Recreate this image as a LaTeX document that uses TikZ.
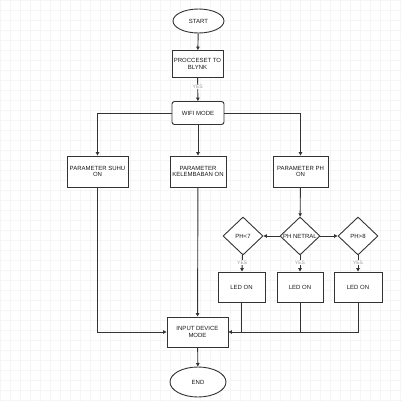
\documentclass[tikz,border=0pt]{standalone}
\usepackage{fontspec}
\setmainfont{Liberation Sans}
\usetikzlibrary{arrows.meta,shapes.geometric}
\definecolor{ln}{HTML}{333333}
\definecolor{gridc}{HTML}{F5F5F5}
\tikzset{
  txt/.style={font=\fontsize{6}{6.8}\selectfont,text=black!90},
  box/.style={txt,draw=ln,line width=0.9pt,fill=white,inner sep=0.5pt,align=center},
  oval/.style={box,ellipse},
  dia/.style={draw=ln,line width=0.9pt,fill=white,diamond,minimum width=40pt,minimum height=38pt,inner sep=0pt},
  conn/.style={draw=ln,line width=0.9pt},
  arr/.style={conn,-{Triangle[length=3.4pt,width=3.4pt]}},
  yes/.style={fill=white,inner sep=0.5pt,font=\fontsize{5}{5.5}\selectfont,text=black!40}
}
\begin{document}
\begin{tikzpicture}[x=1pt,y=-1pt]
\useasboundingbox (0,0) rectangle (402,402);
\fill[white] (0,0) rectangle (402,402);
\foreach \g in {0,10,...,400} {
  \draw[gridc,line width=0.4pt] (\g,0) -- (\g,402);
  \draw[gridc,line width=0.4pt] (0,\g) -- (402,\g);
}
\node[oval,minimum width=51pt,minimum height=24pt] (start) at (198.5,21) {START};
\node[box,minimum width=51pt,minimum height=27pt] (proc) at (197.5,64) {PROCCESET TO\\BLYNK};
\node[box,rounded corners=2.5pt,minimum width=52pt,minimum height=23pt] (wifi) at (198,113) {WIFI MODE};
\node[box,minimum width=61pt,minimum height=31pt] (suhu) at (97.5,171.5) {PARAMETER SUHU\\ON};
\node[box,minimum width=56pt,minimum height=31pt] (kelem) at (198,171.5) {PARAMETER\\KELEMBABAN ON};
\node[box,minimum width=55pt,minimum height=31pt] (ph) at (300.5,171.5) {PARAMETER PH\\ON};
\node[dia,label={[txt]center:PH<7}] (d1) at (243,236) {};
\node[dia,label={[txt]center:PH NETRAL}] (d2) at (300,236) {};
\node[dia,label={[txt]center:PH>8}] (d3) at (358,236) {};
\node[box,minimum width=47pt,minimum height=30pt] (led1) at (241.5,287) {LED ON};
\node[box,minimum width=46pt,minimum height=30pt] (led2) at (300,287) {LED ON};
\node[box,minimum width=48pt,minimum height=30pt] (led3) at (358,287) {LED ON};
\node[box,minimum width=61pt,minimum height=30pt] (input) at (197.5,332) {INPUT DEVICE\\MODE};
\node[oval,minimum width=56pt,minimum height=30pt] (end) at (198,382) {END};

\draw[arr] (start) -- (proc);
\draw[arr] (proc) -- node[yes,pos=0.4] (y0) {YES} (wifi);
\draw[arr] (wifi.west) -| (suhu.north);
\draw[arr] (wifi.east) -| (ph.north);
\draw[arr] (wifi) -- (kelem);
\draw[arr] (ph) -- (d2);
\draw[arr] (d2.west) -- (d1.east);
\draw[arr] (d2.east) -- (d3.west);
\draw[arr] (d1) -- node[yes,pos=0.45] (y1) {YES} (led1);
\draw[arr] (d2) -- node[yes,pos=0.45] (y2) {YES} (led2);
\draw[arr] (d3) -- node[yes,pos=0.45] (y3) {YES} (led3);
\draw[arr] (suhu.south) |- (input.west);
\draw[arr] (kelem) -- (input);
\draw[arr] (led3.south) |- (input.east);
\draw[conn] (led1.south) -- (led1.south |- input.east);
\draw[conn] (led2.south) -- (led2.south |- input.east);
\draw[arr] (input) -- (end);
\end{tikzpicture}
\end{document}
